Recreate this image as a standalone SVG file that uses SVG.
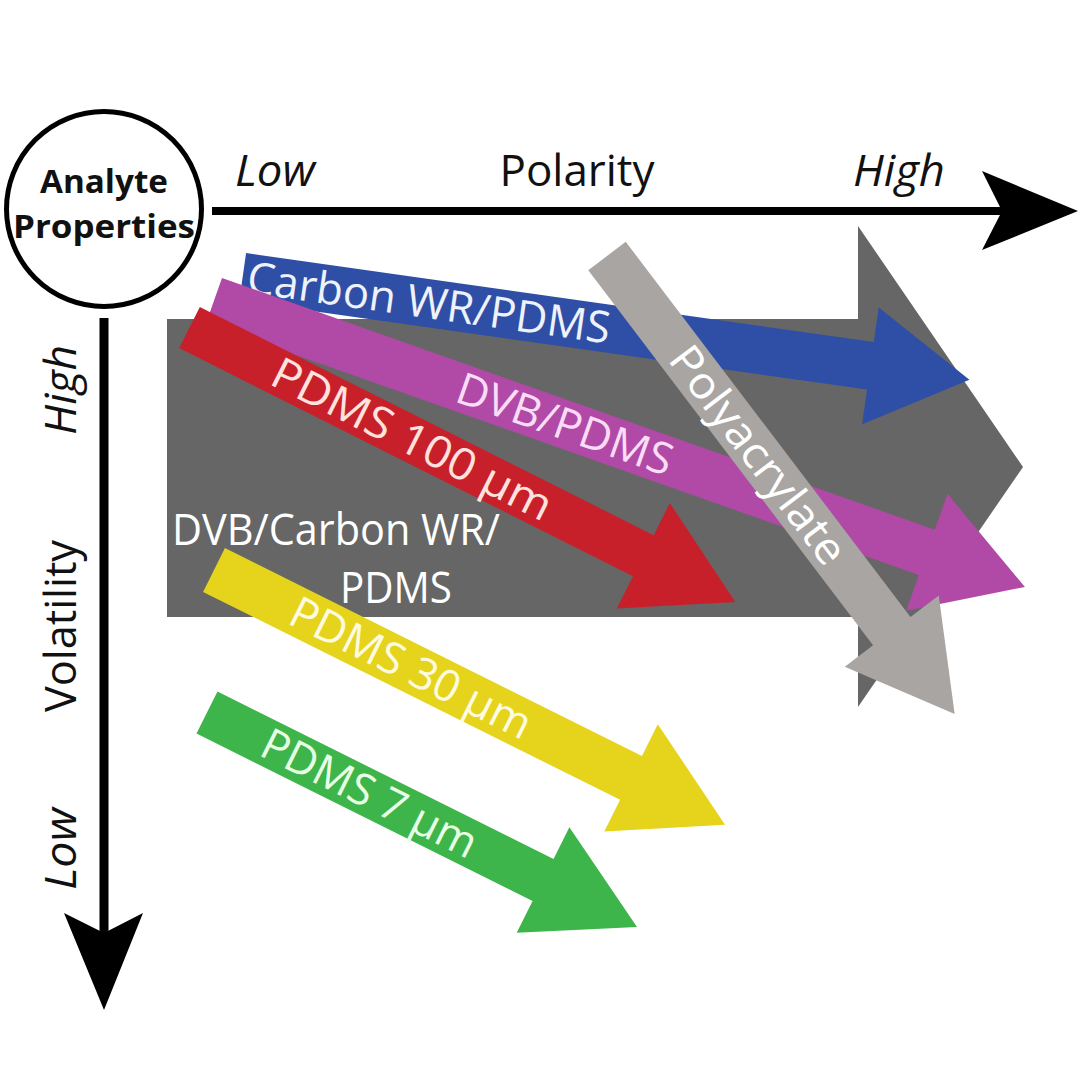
<svg xmlns="http://www.w3.org/2000/svg" width="1080" height="1080" viewBox="0 0 1080 1080">
<style>
text{font-family:"Open Sans","Liberation Sans",sans-serif;}
.lab{font-size:44px;}
.ax{font-size:44px;fill:#111;}
.it{font-style:italic;}
.fib{font-size:44px;}
</style>
<rect width="1080" height="1080" fill="#fff"/>
<g id="dvb-carbon-pdms">
<path d="M167,319 H858 V226 L1023,467 L858,707 V617 H167 Z" fill="#666666"/>
<text class="lab" x="172" y="545" fill="#fff" textLength="328" lengthAdjust="spacingAndGlyphs">DVB/Carbon WR/</text>
<text class="lab" x="340" y="603" fill="#fff" textLength="112" lengthAdjust="spacingAndGlyphs">PDMS</text>
</g>
<g id="carbon-wr-pdms" transform="translate(242.7,276.8) rotate(8.07)">
<path d="M0,-24 H634 V-59 L734,0 L634,59 V24 H0 Z" fill="#2f4fa6"/>
<text class="fib" x="5" y="15" fill="#eef2fb" textLength="366" lengthAdjust="spacingAndGlyphs">Carbon WR/PDMS</text>
</g>
<g id="dvb-pdms" transform="translate(214,300.6) rotate(19.45)">
<path d="M0,-24 H756 V-62 L860,0 L756,62 V24 H0 Z" fill="#b04aa6"/>
<text class="fib" x="259" y="15" fill="#fbdcf6" textLength="226" lengthAdjust="spacingAndGlyphs">DVB/PDMS</text>
</g>
<g id="pdms-100" transform="translate(189.5,327.5) rotate(26.7)">
<path d="M0,-23 H508 V-59 L611,0 L508,59 V23 H0 Z" fill="#c8202b"/>
<text class="fib" x="95" y="15" fill="#ffe2de" textLength="308" lengthAdjust="spacingAndGlyphs">PDMS 100 µm</text>
</g>
<g id="polyacrylate" transform="translate(607,256) rotate(52.8)">
<path d="M0,-23.5 H471 V-59 L575,0 L471,59 V23.5 H0 Z" fill="#a8a5a3"/>
<text class="fib" x="119" y="15" fill="#ffffff" textLength="262" lengthAdjust="spacingAndGlyphs">Polyacrylate</text>
</g>
<g id="pdms-30" transform="translate(214,570) rotate(26.5)">
<path d="M0,-24.5 H466 V-60 L571,0 L466,60 V24.5 H0 Z" fill="#e5d31c"/>
<text class="fib" x="88" y="15" fill="#fffbe0" textLength="264" lengthAdjust="spacingAndGlyphs">PDMS 30 µm</text>
</g>
<g id="pdms-7" transform="translate(207,712.5) rotate(26.5)">
<path d="M0,-23.5 H375.5 V-59 L480.5,0 L375.5,59 V23.5 H0 Z" fill="#3db54a"/>
<text class="fib" x="64" y="15" fill="#e8ffe6" textLength="235" lengthAdjust="spacingAndGlyphs">PDMS 7 µm</text>
</g>
<g id="analyte-properties">
<circle cx="104" cy="209" r="97.5" fill="#fff" stroke="#000" stroke-width="5"/>
<text x="104" y="193" text-anchor="middle" font-size="32" font-weight="bold" fill="#111" textLength="128" lengthAdjust="spacingAndGlyphs">Analyte</text>
<text x="104" y="238" text-anchor="middle" font-size="32" font-weight="bold" fill="#111" textLength="182" lengthAdjust="spacingAndGlyphs">Properties</text>
</g>
<g id="connectors">
<line x1="212" y1="211" x2="1004" y2="211" stroke="#000" stroke-width="8"/>
<path d="M982,171 L1078,211 L982,250 L1002,211 Z" fill="#000"/>
<line x1="104" y1="318" x2="104" y2="935" stroke="#000" stroke-width="9"/>
<path d="M64,913 L104,1010 L143,913 L104,933 Z" fill="#000"/>
</g>
<g id="axis-labels">
<text class="ax it" x="275" y="186" text-anchor="middle" textLength="80" lengthAdjust="spacingAndGlyphs">Low</text>
<text class="ax" x="577" y="186" text-anchor="middle" textLength="155" lengthAdjust="spacingAndGlyphs">Polarity</text>
<text class="ax it" x="899" y="186" text-anchor="middle" textLength="92" lengthAdjust="spacingAndGlyphs">High</text>
<text class="ax it" transform="translate(76,390) rotate(-90)" text-anchor="middle" textLength="90" lengthAdjust="spacingAndGlyphs">High</text>
<text class="ax" transform="translate(76,626) rotate(-90)" text-anchor="middle" textLength="172" lengthAdjust="spacingAndGlyphs">Volatility</text>
<text class="ax it" transform="translate(76,849) rotate(-90)" text-anchor="middle" textLength="82" lengthAdjust="spacingAndGlyphs">Low</text>
</g>
</svg>
